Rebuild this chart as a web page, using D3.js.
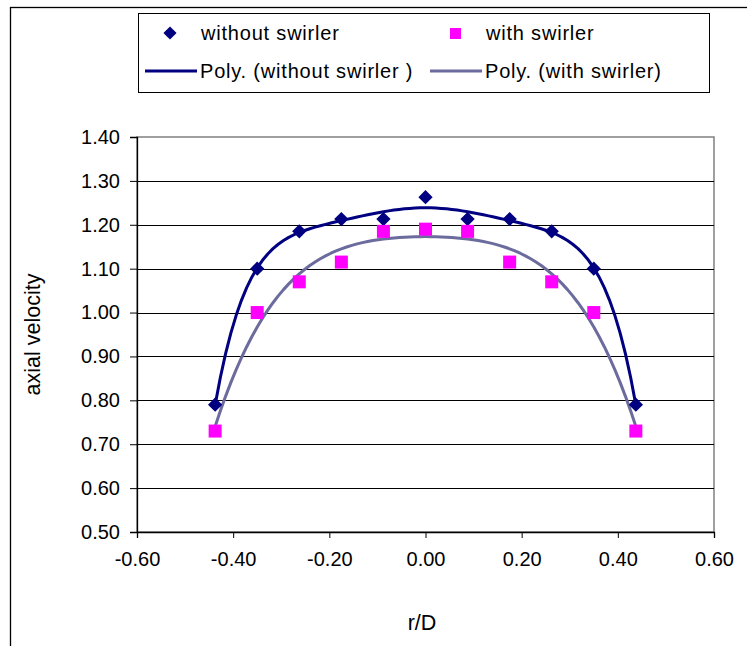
<!DOCTYPE html>
<html><head><meta charset="utf-8">
<script src="https://cdn.jsdelivr.net/npm/d3@7"></script>
<style>
body{margin:0;background:#fff}
text{font-family:"Liberation Sans",Arial,sans-serif;fill:#000}
</style>
</head><body>
<svg id="c" width="747" height="646"></svg>
<script>
// ---- data ----
const rD = [-0.4375, -0.35, -0.2625, -0.175, -0.0875, 0, 0.0875, 0.175, 0.2625, 0.35, 0.4375];
const withoutSwirler = [0.79, 1.10, 1.185, 1.213, 1.213, 1.263, 1.213, 1.213, 1.185, 1.10, 0.79];
const withSwirler = [0.73, 1.00, 1.07, 1.115, 1.185, 1.19, 1.185, 1.115, 1.07, 1.00, 0.73];
const xTicks = [-0.6, -0.4, -0.2, 0, 0.2, 0.4, 0.6];
const yTicks = [0.5, 0.6, 0.7, 0.8, 0.9, 1.0, 1.1, 1.2, 1.3, 1.4];
const seriesNames = ["without swirler", "with swirler", "Poly. (without swirler )", "Poly. (with swirler)"];
const polyOrderWithout = 6;
const polyOrderWith = 4;

// ---- polynomial least-squares trendline ----
function polyfit(xs, ys, deg) {
  const n = deg + 1;
  const M = Array.from({length: n}, () => new Array(n + 1).fill(0));
  xs.forEach((xv, k) => {
    for (let i = 0; i < n; i++) {
      for (let j = 0; j < n; j++) M[i][j] += Math.pow(xv, i + j);
      M[i][n] += ys[k] * Math.pow(xv, i);
    }
  });
  for (let c = 0; c < n; c++) {
    let p = c;
    for (let r = c + 1; r < n; r++) if (Math.abs(M[r][c]) > Math.abs(M[p][c])) p = r;
    [M[c], M[p]] = [M[p], M[c]];
    for (let r = 0; r < n; r++) {
      if (r === c) continue;
      const f = M[r][c] / M[c][c];
      for (let j = c; j <= n; j++) M[r][j] -= f * M[c][j];
    }
  }
  return M.map((row, i) => row[n] / row[i]);
}
const evalPoly = (co, xv) => co.reduce((s, c, i) => s + c * Math.pow(xv, i), 0);

const svg = d3.select("#c");
const pL = 137, pR = 714, pT = 137, pB = 532;
const x = d3.scaleLinear().domain([-0.6, 0.6]).range([pL, pR]);
const y = d3.scaleLinear().domain([0.5, 1.4]).range([pB, pT]);

// outer chart frame
svg.append("rect").attr("x", 10.5).attr("y", 7.5).attr("width", 800).attr("height", 700)
  .attr("fill", "#fff").attr("stroke", "#000").attr("stroke-width", 1.3);
// plot area
svg.append("rect").attr("x", pL).attr("y", pT).attr("width", pR - pL).attr("height", pB - pT)
  .attr("fill", "#fff").attr("stroke", "#808080").attr("stroke-width", 1.5);
// gridlines
svg.append("g").selectAll("line").data(yTicks.filter(v => v > 0.5 && v < 1.4)).join("line")
  .attr("x1", pL).attr("x2", pR)
  .attr("y1", d => Math.round(y(d)) + 0.5).attr("y2", d => Math.round(y(d)) + 0.5)
  .attr("stroke", "#000").attr("stroke-width", 1);

// axes
const fmt = v => d3.format(".2f")(v).replace("\u2212", "-");
const yAxis = svg.append("g").attr("transform", `translate(${pL},0)`)
  .call(d3.axisLeft(y).tickValues(yTicks).tickFormat(fmt).tickSize(7).tickPadding(10));
const xAxis = svg.append("g").attr("transform", `translate(0,${pB})`)
  .call(d3.axisBottom(x).tickValues(xTicks).tickFormat(fmt).tickSize(6).tickPadding(14));
[yAxis, xAxis].forEach(g => {
  g.select(".domain").attr("stroke", "#000").attr("stroke-width", 1.3);
  g.selectAll(".tick line").attr("stroke", "#000").attr("stroke-width", 1);
  g.selectAll(".tick text").attr("font-size", 20).attr("font-family", "Liberation Sans, Arial, sans-serif");
});

// axis titles
svg.append("text").attr("x", 422).attr("y", 630).attr("text-anchor", "middle")
  .attr("font-size", 21.5).text("r/D");
svg.append("text").attr("transform", `translate(40,${(pT + pB) / 2}) rotate(-90)`)
  .attr("text-anchor", "middle").attr("font-size", 21.5).text("axial velocity");

// trendlines
const colWithout = "#000080", colWith = "#FF00FF", colTrendWith = "#6B6B9E";
function trend(vals, color, ord) {
  const co = polyfit(rD, vals, ord);
  const xs = d3.range(0, 81).map(i => rD[0] + (rD[rD.length - 1] - rD[0]) * i / 80);
  svg.append("path").datum(xs)
    .attr("d", d3.line().x(d => x(d)).y(d => y(evalPoly(co, d))))
    .attr("fill", "none").attr("stroke", color).attr("stroke-width", 3)
    .attr("stroke-linejoin", "round");
}
trend(withoutSwirler, colWithout, polyOrderWithout);
trend(withSwirler, colTrendWith, polyOrderWith);

// markers
svg.append("g").selectAll("path").data(rD).join("path")
  .attr("d", d3.symbol(d3.symbolDiamond2, 130)())
  .attr("transform", (d, i) => `translate(${x(d)},${y(withoutSwirler[i])})`)
  .attr("fill", colWithout);
svg.append("g").selectAll("rect").data(rD).join("rect")
  .attr("x", d => x(d) - 6.5).attr("y", (d, i) => y(withSwirler[i]) - 6.5)
  .attr("width", 13).attr("height", 13).attr("fill", colWith);

// legend
const lg = svg.append("g");
lg.append("rect").attr("x", 138.5).attr("y", 13.5).attr("width", 571).attr("height", 79)
  .attr("fill", "#fff").attr("stroke", "#000").attr("stroke-width", 1);
lg.append("path").attr("d", d3.symbol(d3.symbolDiamond2, 110)())
  .attr("transform", "translate(170,33)").attr("fill", colWithout);
lg.append("rect").attr("x", 450).attr("y", 28).attr("width", 11).attr("height", 11).attr("fill", colWith);
lg.append("line").attr("x1", 145).attr("x2", 197).attr("y1", 71).attr("y2", 71)
  .attr("stroke", colWithout).attr("stroke-width", 3);
lg.append("line").attr("x1", 430).attr("x2", 482).attr("y1", 71).attr("y2", 71)
  .attr("stroke", colTrendWith).attr("stroke-width", 3);
const lt = [[201, 40, seriesNames[0]], [486, 40, seriesNames[1]], [200, 78, seriesNames[2]], [485, 78, seriesNames[3]]];
lg.selectAll("text.l").data(lt).join("text").attr("class", "l")
  .attr("x", d => d[0]).attr("y", d => d[1]).attr("font-size", 20).attr("letter-spacing", 0.8).text(d => d[2]);
</script>
</body></html>
